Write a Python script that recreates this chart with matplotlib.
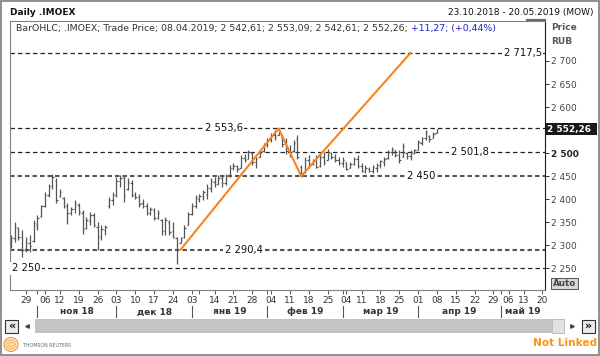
import matplotlib
matplotlib.use('Agg')
import matplotlib.pyplot as plt
import matplotlib.transforms as mtransforms
from matplotlib.patches import Rectangle, Circle
from matplotlib.lines import Line2D
import numpy as np
import pandas as pd

plt.rcParams['font.family'] = ['DejaVu Sans']
plt.rcParams['lines.scale_dashes'] = False

W, H = 600, 356

# ---------------- data ----------------
first_day = '2018-10-23'
last_day = '2019-05-20'
exchange_holidays = ['2018-11-05', '2018-12-31', '2019-01-01', '2019-01-02',
                     '2019-01-07', '2019-03-08', '2019-05-01', '2019-05-09']
last_bar_label = '08.04.2019'

bar_high = [2322, 2351, 2340, 2333, 2318, 2322, 2354, 2365, 2387, 2416,
            2434, 2454, 2445, 2423, 2405, 2391, 2383, 2398, 2391, 2376,
            2362, 2373, 2369, 2351, 2343, 2343, 2405, 2416, 2449, 2452,
            2452, 2445, 2441, 2416, 2412, 2401, 2391, 2383, 2380, 2376,
            2358, 2362, 2354, 2351, 2318, 2318, 2343, 2373, 2391, 2409,
            2412, 2420, 2434, 2445, 2449, 2452, 2452, 2454, 2474, 2478,
            2474, 2496, 2499, 2507, 2503, 2492, 2507, 2521, 2532, 2543,
            2550, 2555, 2539, 2532, 2517, 2528, 2539, 2474, 2492, 2496,
            2488, 2496, 2499, 2503, 2510, 2503, 2499, 2492, 2492, 2481,
            2481, 2492, 2496, 2478, 2474, 2470, 2474, 2478, 2485, 2492,
            2506, 2514, 2506, 2506, 2521, 2503, 2506, 2510, 2528, 2536,
            2550, 2539, 2546, 2553.09]
bar_low = [2293, 2307, 2311, 2275, 2286, 2286, 2307, 2333, 2362, 2383,
           2405, 2423, 2391, 2405, 2380, 2347, 2365, 2369, 2365, 2325,
           2336, 2343, 2340, 2289, 2311, 2322, 2380, 2387, 2405, 2427,
           2394, 2420, 2405, 2401, 2383, 2380, 2365, 2365, 2354, 2358,
           2322, 2322, 2322, 2315, 2260, 2304, 2315, 2343, 2365, 2380,
           2394, 2398, 2401, 2416, 2427, 2430, 2427, 2430, 2449, 2463,
           2459, 2467, 2481, 2488, 2474, 2467, 2492, 2503, 2514, 2525,
           2528, 2539, 2514, 2499, 2492, 2503, 2488, 2449, 2456, 2467,
           2474, 2467, 2470, 2474, 2485, 2488, 2481, 2474, 2470, 2463,
           2467, 2474, 2467, 2459, 2456, 2459, 2456, 2459, 2467, 2472,
           2488, 2496, 2492, 2478, 2492, 2488, 2485, 2499, 2507, 2517,
           2528, 2525, 2532, 2542.61]
bar_open = [2300, 2315, 2338, 2318, 2292, 2305, 2310, 2345, 2364, 2386,
            2410, 2428, 2440, 2408, 2403, 2385, 2370, 2378, 2388, 2370,
            2338, 2352, 2365, 2340, 2318, 2334, 2385, 2398, 2410, 2440,
            2446, 2422, 2436, 2410, 2405, 2392, 2385, 2370, 2376, 2360,
            2355, 2330, 2350, 2330, 2315, 2306, 2318, 2345, 2368, 2385,
            2400, 2406, 2412, 2425, 2438, 2432, 2445, 2436, 2452, 2468,
            2472, 2467, 2490, 2488, 2500, 2480, 2492, 2505, 2518, 2528,
            2540, 2540, 2535, 2520, 2505, 2505, 2530, 2470, 2458, 2485,
            2476, 2484, 2472, 2492, 2485, 2500, 2492, 2486, 2478, 2480,
            2468, 2476, 2488, 2472, 2462, 2466, 2462, 2468, 2474, 2480,
            2490, 2502, 2506, 2495, 2492, 2500, 2494, 2500, 2507, 2522,
            2532, 2538, 2532, 2542.61]
bar_close = [2315, 2340, 2318, 2290, 2305, 2298, 2348, 2360, 2385, 2410,
             2428, 2448, 2398, 2415, 2385, 2370, 2378, 2392, 2372, 2335,
             2355, 2366, 2345, 2320, 2335, 2340, 2398, 2410, 2440, 2445,
             2410, 2438, 2410, 2405, 2390, 2385, 2370, 2378, 2360, 2370,
             2330, 2355, 2328, 2318, 2290, 2315, 2338, 2368, 2385, 2402,
             2408, 2415, 2425, 2440, 2432, 2445, 2435, 2450, 2468, 2472,
             2465, 2490, 2485, 2502, 2480, 2488, 2505, 2518, 2528, 2540,
             2535, 2548, 2520, 2505, 2498, 2522, 2492, 2455, 2485, 2475,
             2484, 2470, 2492, 2480, 2502, 2492, 2485, 2478, 2485, 2466,
             2476, 2488, 2472, 2462, 2468, 2462, 2470, 2475, 2482, 2488,
             2502, 2508, 2495, 2485, 2515, 2494, 2500, 2506, 2524, 2532,
             2545, 2530, 2540.99, 2552.26]

levels = [2717.5, 2553.6, 2501.8, 2450.0, 2290.4, 2250.0]
level_labels = ['2 717,5', '2 553,6', '2 501,8', '2 450', '2 290,4', '2 250']

abcd_dates = ['2018-12-26', '2019-02-06', '2019-02-14', '2019-03-28']
abcd_values = [2290.4, 2553.6, 2450.0, 2717.5]

y_ticks = [2250, 2300, 2350, 2400, 2450, 2500, 2550, 2600, 2650, 2700]
month_names = ['янв', 'фев', 'мар', 'апр', 'май', 'июн',
               'июл', 'авг', 'сен', 'окт', 'ноя', 'дек']

# ---------------- helpers ----------------
def fmt_num(v, nd):
    s = f"{v:,.{nd}f}"
    return s.replace(',', ' ').replace('.', ',')

cal = pd.bdate_range('2018-10-15', last_day)
cal = cal[~cal.isin(pd.to_datetime(exchange_holidays))]
days = cal[cal >= pd.Timestamp(first_day)]
pos = {d: i for i, d in enumerate(days)}
xb = np.arange(len(bar_close))

# ---------------- figure ----------------
fig = plt.figure(figsize=(W / 100, H / 100), dpi=100, facecolor='white')
T = mtransforms.Affine2D().scale(1 / W, -1 / H).translate(0, 1) + fig.transFigure

ax_l, ax_r, ax_t, ax_b = 9.5, 545, 21, 290
ax = fig.add_axes([ax_l / W, 1 - ax_b / H, (ax_r - ax_l) / W, (ax_b - ax_t) / H])
ax.set_facecolor('white')
ax.set_xlim(-0.38, pos[pd.Timestamp(last_day)] + 0.67)
ax.set_ylim(2202.9, 2786.8)

# level lines
for lv, lab, xf, ha in zip(levels, level_labels,
                           [0.994, 0.40, 0.86, 0.768, 0.438, 0.004],
                           ['right', 'center', 'center', 'center', 'center', 'left']):
    thick = lv in (2450.0, 2290.4)
    ax.axhline(lv, color='#555555' if thick else '#222222',
               lw=1.5 if thick else 0.9, ls=(0, (3.2, 2.2)), zorder=1)
    ax.text(xf, lv, lab, transform=mtransforms.blended_transform_factory(ax.transAxes, ax.transData),
            ha=ha, va='center', fontsize=7.2, color='#111111', zorder=5,
            bbox=dict(facecolor='white', edgecolor='none', pad=1.2))

# OHLC bars
bar_col = '#555555'
ax.vlines(xb, bar_low, bar_high, color=bar_col, lw=0.9, zorder=2)
ax.hlines(bar_open, xb - 0.38, xb, color=bar_col, lw=0.9, zorder=2)
ax.hlines(bar_close, xb, xb + 0.38, color=bar_col, lw=0.9, zorder=2)

# ABCD pattern
ax.plot([pos[pd.Timestamp(d)] for d in abcd_dates], abcd_values,
        color='#f7841f', lw=1.5, zorder=4, solid_capstyle='round')

# spines
for s in ['left', 'top', 'bottom']:
    ax.spines[s].set_color('#808080')
    ax.spines[s].set_linewidth(0.8)
ax.spines['right'].set_color('#1a1a1a')
ax.spines['right'].set_linewidth(0.8)

o, h, l, c = bar_open[-1], bar_high[-1], bar_low[-1], bar_close[-1]

# y axis on right (label hidden where the last-price box sits)
ax.yaxis.tick_right()
ax.set_yticks(y_ticks)
ax.set_yticklabels(['' if abs(v - c) < 15 else fmt_num(v, 0) for v in y_ticks])
ax.tick_params(axis='y', direction='out', length=3, width=0.7, color='#333333',
               labelsize=6.5, labelcolor='#444444', pad=1.2)
for t, v in zip(ax.get_yticklabels(), y_ticks):
    if v == 2500:
        t.set_fontweight('bold')
        t.set_color('#222222')

# x ticks: first trading day of each week and month
week_starts, month_starts = [], []
pw, pm = None, None
for d in cal:
    kw = tuple(d.isocalendar())[:2]
    km = (d.year, d.month)
    if kw != pw:
        if d >= days[0]:
            week_starts.append(d)
        pw = kw
    if km != pm:
        if d >= days[0]:
            month_starts.append(d)
        pm = km
tick_pos, tick_lab = [], []
last_lab = -99
for d in week_starts:
    p = pos[d]
    tick_pos.append(p)
    if p - last_lab >= 3:
        tick_lab.append(f"{d.day:02d}")
        last_lab = p
    else:
        tick_lab.append('')
for d in month_starts:
    if pos[d] not in tick_pos:
        tick_pos.append(pos[d])
        tick_lab.append('')
ax.set_xticks(tick_pos)
ax.set_xticklabels(tick_lab)
ax.tick_params(axis='x', direction='out', length=3, width=0.7, color='#555555',
               labelsize=6.5, labelcolor='#333333', pad=1.2)

# month labels with separators
BX = mtransforms.blended_transform_factory(ax.transData, T)
xmax = ax.get_xlim()[1]
for i, d in enumerate(month_starts):
    p0 = pos[d]
    p1 = pos[month_starts[i + 1]] if i + 1 < len(month_starts) else xmax
    fig.add_artist(Line2D([p0, p0], [306, 317], transform=BX, color='#555555', lw=0.8))
    fig.text((p0 + p1) / 2, 312, f"{month_names[d.month - 1]} {d.year % 100:02d}",
             transform=BX, ha='center', va='center', fontsize=6.5,
             fontweight='bold', color='#333333')

# ---------------- chrome ----------------
fig.text(10.5, 12.7, 'Daily .IMOEX', transform=T, ha='left', va='center',
         fontsize=6.5, fontweight='bold', color='#111111')
fig.text(593, 12.7, f"{days[0].strftime('%d.%m.%Y')} - {pd.Timestamp(last_day).strftime('%d.%m.%Y')} (MOW)",
         transform=T, ha='right', va='center', fontsize=6.5, color='#111111')
fig.add_artist(Line2D([527, 545], [20, 20], transform=T, color='#6a6a6a', lw=1.6))

chg = c - bar_close[-2]
pct = chg / bar_close[-2] * 100
t1 = fig.text(16, 29, f"BarOHLC; .IMOEX; Trade Price; {last_bar_label}; "
              f"{fmt_num(o, 2)}; {fmt_num(h, 2)}; {fmt_num(l, 2)}; {fmt_num(c, 2)};",
              transform=T, ha='left', va='center', fontsize=6.75, color='#333333')
ax.annotate(f"{'+' if chg >= 0 else ''}{fmt_num(chg, 2)}; ({'+' if pct >= 0 else ''}{fmt_num(pct, 2)}%)",
            xy=(1, 0.5), xycoords=t1, xytext=(2.4, 0), textcoords='offset points',
            ha='left', va='center', fontsize=6.75, color='#2222cc', annotation_clip=False)

fig.text(551, 27, 'Price', transform=T, ha='left', va='center', fontsize=6.5,
         fontweight='bold', color='#555555')
fig.text(551, 41, 'RUB', transform=T, ha='left', va='center', fontsize=6.5,
         fontweight='bold', color='#555555')

# last price box
_, ly = ax.transData.transform((0, c))
ly = H - ly
fig.add_artist(Rectangle((545.5, ly - 6.2), 51, 12.4, transform=T, facecolor='#1a1a1a',
                         edgecolor='none'))
fig.text(547, ly, fmt_num(c, 2), transform=T, ha='left', va='center', fontsize=6.5,
         fontweight='bold', color='white')

# Auto button
fig.add_artist(Rectangle((551, 277.5), 27, 11, transform=T, facecolor='#d6d6d6',
                         edgecolor='#555555', lw=0.7))
fig.text(564.5, 283, 'Auto', transform=T, ha='center', va='center', fontsize=6.3,
         fontweight='bold', color='#444444')

# scrollbar
fig.add_artist(Rectangle((35, 319), 517, 14, transform=T, facecolor='#c4c4c4', edgecolor='none'))
fig.add_artist(Rectangle((552, 319), 11.5, 14, transform=T, facecolor='#e2e2e2',
                         edgecolor='#b5b5b5', lw=0.6))
for bx, sym in [(5, '«'), (582, '»')]:
    fig.add_artist(Rectangle((bx, 319.5), 13, 13, transform=T, facecolor='#ececec',
                             edgecolor='#333333', lw=0.8))
    fig.text(bx + 6.5, 325.5, sym, transform=T, ha='center', va='center', fontsize=8,
             fontweight='bold', color='#111111')
fig.add_artist(Line2D([27], [326], transform=T, marker='<', ms=2.5, color='#444444', ls='none'))
fig.add_artist(Line2D([572], [326], transform=T, marker='>', ms=2.5, color='#444444', ls='none'))

# logo & footer
fig.add_artist(Circle((11, 344.5), 7, transform=T, facecolor='#fde2c4', edgecolor='#f39a3c', lw=0.8))
for r in [4.5, 2.2]:
    fig.add_artist(Circle((11, 344.5), r, transform=T, facecolor='none', edgecolor='#f7a650', lw=0.6))
fig.text(23, 345.5, 'THOMSON REUTERS', transform=T, ha='left', va='center', fontsize=3.4,
         color='#666666')
fig.text(597, 343.5, 'Not Linked', transform=T, ha='right', va='center', fontsize=7.6,
         fontweight='bold', color='#f7941d')

# outer frame
fig.add_artist(Rectangle((0.8, 0.8), W - 1.6, H - 1.6, transform=T, facecolor='none',
                         edgecolor='#8e8e8e', lw=1.4))

fig.savefig('out.png', dpi=100, facecolor='white')
